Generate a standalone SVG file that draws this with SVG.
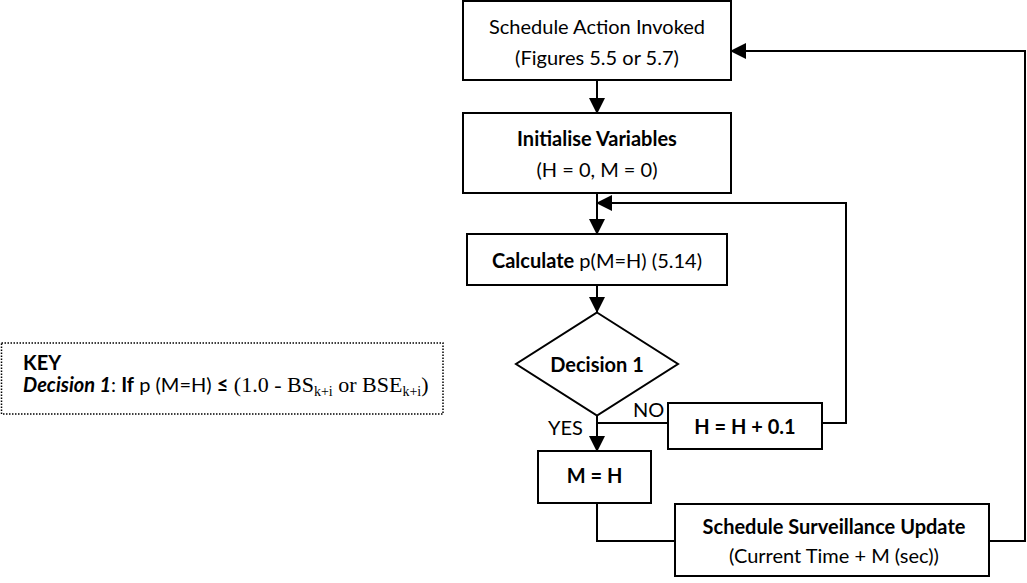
<svg xmlns="http://www.w3.org/2000/svg" width="1027" height="583" viewBox="0 0 1027 583">
  <defs>
    <style>
      .box { fill: #ffffff; stroke: #000000; stroke-width: 2; }
      .wire { fill: none; stroke: #000000; stroke-width: 2; }
      .key { fill: none; stroke: #000000; stroke-width: 1.5; stroke-dasharray: 1.5 1.5; }
      .t { font-family: Lato, "Open Sans", sans-serif; font-size: 20px; fill: #000000; }
      .c { text-anchor: middle; }
      .b { font-weight: bold; }
      .tm { font-family: "Liberation Serif", serif; font-size: 22px; }
      .sub { font-size: 14px; }
    </style>
    <marker id="head" viewBox="0 0 16 16" refX="15" refY="8" markerWidth="16" markerHeight="16" markerUnits="userSpaceOnUse" orient="auto">
      <path d="M0,0 L16,8 L0,16 Z" fill="#000000"/>
    </marker>
  </defs>

  <!-- connectors -->
  <g id="connectors">
    <line class="wire" x1="597" y1="80" x2="597" y2="113" marker-end="url(#head)"/>
    <line class="wire" x1="597" y1="193" x2="597" y2="234" marker-end="url(#head)"/>
    <line class="wire" x1="597" y1="285" x2="597" y2="312" marker-end="url(#head)"/>
    <line class="wire" x1="597" y1="415" x2="597" y2="451" marker-end="url(#head)"/>
    <line class="wire" x1="597" y1="423" x2="668" y2="423"/>
    <polyline class="wire" points="822,423 846,423 846,203 597,203" marker-end="url(#head)"/>
    <polyline class="wire" points="597,503 597,541 675,541"/>
    <polyline class="wire" points="989,541 1025,541 1025,51 731,51" marker-end="url(#head)"/>
  </g>

  <g id="start">
    <rect class="box" x="463" y="1" width="268" height="79"/>
    <text class="t c" x="597" y="34">Schedule Action Invoked</text>
    <text class="t c" x="597" y="65">(Figures 5.5 or 5.7)</text>
  </g>

  <g id="init">
    <rect class="box" x="463" y="113" width="268" height="80"/>
    <text class="t c b" x="597" y="146">Initialise Variables</text>
    <text class="t c" x="597" y="177">(H = 0, M = 0)</text>
  </g>

  <g id="calculate">
    <rect class="box" x="467" y="234" width="260" height="51"/>
    <text class="t c" x="597" y="268"><tspan class="b">Calculate</tspan> p(M=H) (5.14)</text>
  </g>

  <g id="decision">
    <polygon class="box" points="597,312.5 678,364 597,415.5 516,364"/>
    <text class="t c b" x="597" y="372">Decision 1</text>
  </g>

  <g id="labels">
    <text class="t" x="633" y="417">NO</text>
    <text class="t" x="548" y="435">YES</text>
  </g>

  <g id="increment">
    <rect class="box" x="668" y="403" width="154" height="46"/>
    <text class="t c b" x="745" y="434">H = H + 0.1</text>
  </g>

  <g id="assign">
    <rect class="box" x="538" y="451" width="113" height="52"/>
    <text class="t c b" x="594.5" y="483">M = H</text>
  </g>

  <g id="schedule">
    <rect class="box" x="675" y="504" width="314" height="72"/>
    <text class="t c b" x="834" y="534">Schedule Surveillance Update</text>
    <text class="t c" x="834" y="563">(Current Time + M (sec))</text>
  </g>

  <g id="legend">
    <rect class="key" x="1.5" y="343" width="441.5" height="71"/>
    <text class="t b" x="23" y="370">KEY</text>
    <text class="t" x="23" y="392"><tspan font-weight="bold" font-style="italic">Decision 1</tspan>: <tspan font-weight="bold">If</tspan> p (M=H) <tspan font-weight="bold">≤</tspan><tspan class="tm"> (1.0 - BS<tspan class="sub" dy="4">k+i</tspan><tspan dy="-4"> or BSE</tspan><tspan class="sub" dy="4">k+i</tspan><tspan dy="-4">)</tspan></tspan></text>
  </g>
</svg>
